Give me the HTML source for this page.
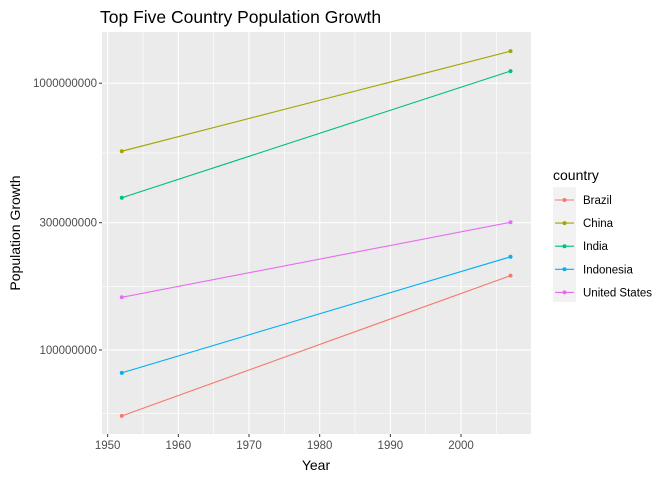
<!DOCTYPE html>
<html><head><meta charset="utf-8"><style>
body{margin:0;background:#fff;font-family:"Liberation Sans",Arial,sans-serif}
svg text{font-family:"Liberation Sans",Arial,sans-serif}
</style></head><body>
<svg id="chart" width="672" height="480" xmlns="http://www.w3.org/2000/svg">
<text x="100" y="23" font-size="17.5" fill="#000">Top Five Country Population Growth</text>
<rect x="102" y="32" width="429" height="402" fill="#ebebeb"/>
<g id="grid"></g><g id="axes"></g><g id="series"></g>
<text x="316" y="470" font-size="14" text-anchor="middle">Year</text>
<text transform="translate(20,233) rotate(-90)" font-size="14" text-anchor="middle">Population Growth</text>
<text x="553" y="180" font-size="14">country</text>
<rect x="553" y="187" width="23" height="115" fill="#f2f2f2"/>
<g id="legend"></g>
</svg>
<script>
const countries=["Brazil","China","India","Indonesia","United States"];
const colors=["#F8766D","#A3A500","#00BF7D","#00B0F6","#E76BF3"];
const years=[1952,2007];
const pop1952=[56600000,556000000,372000000,82100000,157600000];
const pop2007=[190000000,1318700000,1110400000,223500000,301100000];
const xTicks=[1950,1960,1970,1980,1990,2000];
const yTicks=[100000000,300000000,1000000000];
const yTickLabels=["100000000","300000000","1000000000"];

const NS="http://www.w3.org/2000/svg";
const px0=102,px1=531,py0=434,py1=32;
const xMin=1949.2,xMax=2009.9,lMin=7.685,lMax=9.192;
function X(v){return px0+(v-xMin)/(xMax-xMin)*(px1-px0);}
function Y(v){return py0-(Math.log10(v)-lMin)/(lMax-lMin)*(py0-py1);}
function el(t,a,p){const e=document.createElementNS(NS,t);for(const k in a)e.setAttribute(k,a[k]);p.appendChild(e);return e;}
const grid=document.getElementById('grid'),axes=document.getElementById('axes'),ser=document.getElementById('series'),leg=document.getElementById('legend');
// minor x
for(let i=0;i<xTicks.length;i++){const m=xTicks[i]+5;const l=el('line',{x1:X(m),x2:X(m),y1:py1,y2:py0,stroke:'#fff','stroke-width':0.6},grid);
}
// minor y (log midpoints)
const lt=yTicks.map(v=>Math.log10(v));
const minors=[lt[0]-(lt[1]-lt[0])/2,(lt[0]+lt[1])/2,(lt[1]+lt[2])/2];
minors.forEach(m=>{const y=Y(Math.pow(10,m));if(y>py1&&y<py0){const l=el('line',{x1:px0,x2:px1,y1:y,y2:y,stroke:'#fff','stroke-width':0.6},grid);
}});
xTicks.forEach(t=>{const x=X(t);
const g=el('line',{x1:x,x2:x,y1:py1,y2:py0,stroke:'#fff','stroke-width':1.1},grid);

const tk=el('line',{x1:x,x2:x,y1:py0,y2:py0+3,stroke:'#333','stroke-width':1},axes);

const tx=el('text',{x:x,y:py0+15,'font-size':11.5,'text-anchor':'middle',fill:'#4d4d4d'},axes);tx.textContent=t;
});
yTicks.forEach((t,i)=>{const y=Y(t);
const g=el('line',{x1:px0,x2:px1,y1:y,y2:y,stroke:'#fff','stroke-width':1.1},grid);

const tk=el('line',{x1:px0-3,x2:px0,y1:y,y2:y,stroke:'#333','stroke-width':1},axes);

const tx=el('text',{x:px0-5,y:y+4,'font-size':11.5,'text-anchor':'end',fill:'#4d4d4d'},axes);tx.textContent=yTickLabels[i];
});
countries.forEach((c,i)=>{const slug=c.toLowerCase().replace(/ /g,'-');
const vals=[pop1952[i],pop2007[i]];
const ln=el('line',{x1:X(years[0]),y1:Y(vals[0]),x2:X(years[1]),y2:Y(vals[1]),stroke:colors[i],'stroke-width':1.1},ser);

vals.forEach((v,j)=>{const p=el('circle',{cx:X(years[j]),cy:Y(v),r:2,fill:colors[i]},ser);
});
const ly=200+i*23.1;
const g=el('g',{},leg);
el('line',{x1:555,x2:574,y1:ly,y2:ly,stroke:colors[i],'stroke-width':1.1},g);
el('circle',{cx:564.5,cy:ly,r:2,fill:colors[i]},g);
const t=el('text',{x:583,y:ly+4,'font-size':11.5,fill:'#000'},g);t.textContent=c;});
</script>
</body></html>
